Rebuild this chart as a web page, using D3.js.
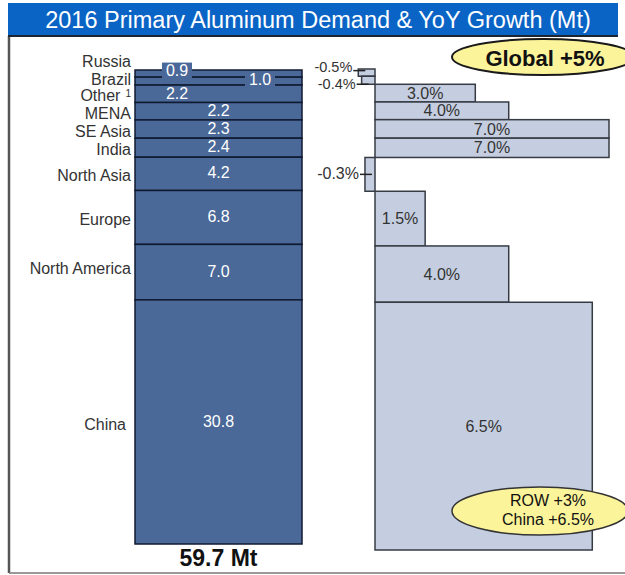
<!DOCTYPE html>
<html>
<head>
<meta charset="utf-8">
<script src="https://cdn.jsdelivr.net/npm/d3@7"></script>
<style>
  body { margin: 0; background: #fff; }
  svg { display: block; font-family: "Liberation Sans", Arial, sans-serif; }
</style>
</head>
<body>
<script>
// 2016 primary aluminum demand by region (Mt) and YoY growth (%)
const regions = ["Russia", "Brazil", "Other", "MENA", "SE Asia", "India", "North Asia", "Europe", "North America", "China"];
const demand  = [0.9, 1.0, 2.2, 2.2, 2.3, 2.4, 4.2, 6.8, 7.0, 30.8];
const growth  = [-0.5, -0.4, 3.0, 4.0, 7.0, 7.0, -0.3, 1.5, 4.0, 6.5];
const totalLabel = "59.7 Mt";
const title = "2016 Primary Aluminum Demand & YoY Growth (Mt)";
const globalNote = "Global +5%";
const splitNote = ["ROW +3%", "China +6.5%"];

const W = 625, H = 575;

const svg = d3.select("body").append("svg")
  .attr("width", W).attr("height", H);

// stack the segments top-down
let acc = 0;
const rows = regions.map(function(r, i) {
  const d = {region: r, value: demand[i], growth: growth[i], y0: acc, y1: acc + demand[i]};
  acc += demand[i];
  return d;
});

const yL = d3.scaleLinear().domain([0, acc]).range([70, 544]);
const yR = d3.scaleLinear().domain([0, acc]).range([69, 550]);
const xR = d3.scaleLinear().domain([0, 7]).range([375, 609]);
const barLeft = 135, barRight = 302, barMid = (barLeft + barRight) / 2;

const fmt1 = v => v.toFixed(1);
const fmtPct = v => v.toFixed(1) + "%";

// frame
svg.append("line").attr("x1", 9).attr("x2", 9).attr("y1", 36).attr("y2", 573)
  .attr("stroke", "#555").attr("stroke-width", 2.5);
svg.append("line").attr("x1", 9).attr("x2", W).attr("y1", 573).attr("y2", 573)
  .attr("stroke", "#777").attr("stroke-width", 1.5);

// global note ellipse (sits under the title bar)
const gn = svg.append("g");
gn.append("ellipse").attr("cx", 543).attr("cy", 57).attr("rx", 91).attr("ry", 18)
  .attr("fill", "#fbf49a").attr("stroke", "#1a1a1a").attr("stroke-width", 2);
gn.append("text").attr("x", 545).attr("y", 58).attr("dy", "0.35em")
  .attr("text-anchor", "middle").style("font-size", "22px").style("font-weight", "bold")
  .attr("fill", "#111").text(globalNote);

// title bar
svg.append("rect").attr("x", 8).attr("y", 3).attr("width", 610).attr("height", 33)
  .attr("fill", "#0a64c6");
svg.append("line").attr("x1", 8).attr("x2", 618).attr("y1", 36).attr("y2", 36)
  .attr("stroke", "#1c2530").attr("stroke-width", 2);
svg.append("text").attr("x", 318).attr("y", 20).attr("dy", "0.35em")
  .attr("text-anchor", "middle").attr("fill", "#fff").style("font-size", "23.5px")
  .text(title);

// left stacked bar
svg.append("g").selectAll("rect")
  .data(rows)
  .join("rect")
    .attr("x", barLeft)
    .attr("width", barRight - barLeft)
    .attr("y", d => yL(d.y0))
    .attr("height", d => yL(d.y1) - yL(d.y0))
    .attr("fill", "#4a6898")
    .attr("stroke", "#0f1a30")
    .attr("stroke-width", 1.5);

// value labels in the bar; the thin top ones are moved aside on a patch
const valueNudge = {
  "Russia": {x: 177, dy: -2, box: true},
  "Brazil": {x: 260, dy: -1, box: true},
  "Other":  {x: 177, dy: 1}
};
const vl = svg.append("g").selectAll("g")
  .data(rows)
  .join("g")
    .attr("transform", function(d) {
      const n = valueNudge[d.region] || {};
      const cx = n.x || barMid;
      const cy = (yL(d.y0) + yL(d.y1)) / 2 - 1 + (n.dy || 0);
      return `translate(${cx},${cy})`;
    });
vl.filter(d => valueNudge[d.region] && valueNudge[d.region].box)
  .append("rect")
    .attr("x", -15).attr("y", -8).attr("width", 30).attr("height", 16)
    .attr("fill", "#4a6898");
vl.append("text")
  .attr("text-anchor", "middle").attr("dy", "0.35em")
  .attr("fill", "#fff").style("font-size", "16px")
  .text(d => fmt1(d.value));

// region names
const nameNudge = {"Russia": -12, "Brazil": -2, "North America": -4};
const names = svg.append("g").selectAll("text")
  .data(rows)
  .join("text")
    .attr("x", d => d.region === "China" ? 126 : 131)
    .attr("y", d => (yL(d.y0) + yL(d.y1)) / 2 + (d.region in nameNudge ? nameNudge[d.region] : 2))
    .attr("dy", "0.35em")
    .attr("text-anchor", "end")
    .attr("fill", "#333")
    .style("font-size", "16px")
    .text(d => d.region);
names.filter(d => d.region === "Other")
  .append("tspan").attr("dx", 5).attr("dy", "-0.45em")
  .style("font-size", "10px").text("1");

// growth bars
svg.append("g").selectAll("rect")
  .data(rows)
  .join("rect")
    .attr("x", d => xR(Math.min(0, d.growth)))
    .attr("width", d => Math.abs(xR(d.growth) - xR(0)))
    .attr("y", d => yR(d.y0))
    .attr("height", d => yR(d.y1) - yR(d.y0))
    .attr("fill", "#c5cee0")
    .attr("stroke", "#363b44")
    .attr("stroke-width", 1.5);

// positive labels centred in the bar
svg.append("g").selectAll("text")
  .data(rows.filter(d => d.growth > 0))
  .join("text")
    .attr("x", d => (xR(0) + xR(d.growth)) / 2)
    .attr("y", d => (yR(d.y0) + yR(d.y1)) / 2)
    .attr("dy", "0.35em")
    .attr("text-anchor", "middle")
    .attr("fill", "#333")
    .style("font-size", "16px")
    .text(d => fmtPct(d.growth));

// negative labels with a leader line
const negNudge = {"Russia": {line: -2, text: -4.5}, "Brazil": {line: 4, text: 4.5}};
const neg = svg.append("g").selectAll("g")
  .data(rows.filter(d => d.growth < 0))
  .join("g")
    .attr("transform", d => `translate(${xR(d.growth)},${(yR(d.y0) + yR(d.y1)) / 2})`);
neg.append("line")
  .attr("x1", -5).attr("x2", 7)
  .attr("y1", d => negNudge[d.region] ? negNudge[d.region].line : 0)
  .attr("y2", d => negNudge[d.region] ? negNudge[d.region].line : 0)
  .attr("stroke", "#222").attr("stroke-width", 1.5);
neg.append("text")
  .attr("x", -6)
  .attr("y", d => negNudge[d.region] ? negNudge[d.region].text : 0)
  .attr("dy", "0.3em")
  .attr("text-anchor", "end")
  .attr("fill", "#333")
  .style("font-size", d => negNudge[d.region] ? "14.5px" : "16px")
  .text(d => fmtPct(d.growth));

// total under the stacked bar
svg.append("text").attr("x", barMid).attr("y", 558).attr("dy", "0.35em")
  .attr("text-anchor", "middle").style("font-size", "23px").style("font-weight", "bold")
  .attr("fill", "#111").text(totalLabel);

// ROW / China note
const sn = svg.append("g");
sn.append("ellipse").attr("cx", 540).attr("cy", 511).attr("rx", 88).attr("ry", 24)
  .attr("fill", "#fbf49a").attr("stroke", "#333").attr("stroke-width", 1.5);
sn.selectAll("text")
  .data(splitNote)
  .join("text")
    .attr("x", 548)
    .attr("y", (d, i) => 500 + i * 19)
    .attr("dy", "0.35em")
    .attr("text-anchor", "middle")
    .attr("fill", "#111")
    .style("font-size", "16px")
    .text(d => d);
</script>
</body>
</html>
